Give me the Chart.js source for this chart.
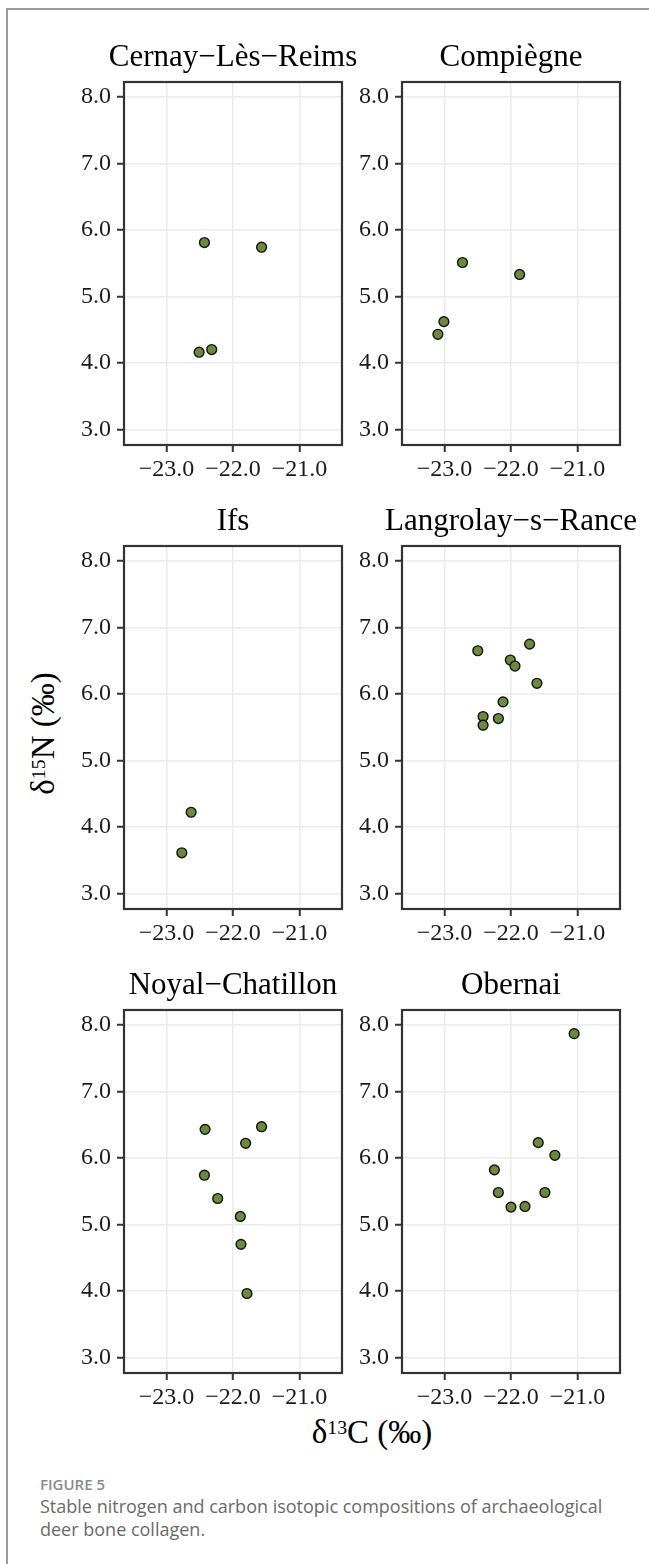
<!DOCTYPE html>
<html lang="en">
<head>
    <meta charset="UTF-8">
    <title>Figure 5 - deer bone collagen isotopes</title>
    <script src="https://cdn.jsdelivr.net/npm/chart.js"></script>
    <style>
        body { margin: 0; background: #fff; }
        #page { position: relative; width: 649px; height: 1564px; overflow: hidden; }
        #frame { position: absolute; left: 6px; top: 8px; width: 700px; height: 1600px;
                 border-left: 2px solid #9a9a9a; border-top: 2px solid #9a9a9a; }
        canvas { position: absolute; }
        .axt { position: absolute; font-family: 'Liberation Serif', serif; font-size: 33px;
               line-height: 1; color: #000; text-align: center; white-space: nowrap; }
        .axt sup { font-size: 0.6em; vertical-align: 9px; line-height: 1; }
        #ytitle { left: -107px; top: 717px; width: 300px; transform: rotate(-90deg); }
        #xtitle { left: 222px; top: 1416px; width: 300px; }
        #figno { position: absolute; left: 40px; top: 1477px; font-family: 'Open Sans', sans-serif;
                 font-size: 15px; line-height: 15px; font-weight: 600; color: #8a8a8a; }
        #caption { position: absolute; left: 40px; top: 1495px; width: 585px; font-family: 'Open Sans', sans-serif;
                   font-size: 18px; line-height: 23px; color: #6a6a6a; }
    </style>
</head>
<body>
<div id="page">
    <div id="frame"></div>
    <div class="axt" id="ytitle">δ<sup>15</sup>N (‰)</div>
    <div class="axt" id="xtitle">δ<sup>13</sup>C (‰)</div>
    <div id="figno">FIGURE 5</div>
    <div id="caption">Stable nitrogen and carbon isotopic compositions of archaeological deer bone collagen.</div>
</div>
<script>
    // sites (facet titles)
    const sites = ['Cernay−Lès−Reims', 'Compiègne', 'Ifs', 'Langrolay−s−Rance', 'Noyal−Chatillon', 'Obernai'];

    // d13C / d15N per site
    const cernayC = [-22.43, -21.57, -22.51, -22.32];
    const cernayN = [5.81, 5.74, 4.16, 4.20];

    const compiegneC = [-22.73, -21.87, -23.01, -23.10];
    const compiegneN = [5.51, 5.33, 4.62, 4.43];

    const ifsC = [-22.63, -22.77];
    const ifsN = [4.22, 3.61];

    const langrolayC = [-22.50, -21.72, -22.01, -21.94, -21.61, -22.12, -22.42, -22.42, -22.19];
    const langrolayN = [6.65, 6.75, 6.51, 6.42, 6.16, 5.88, 5.66, 5.53, 5.63];

    const noyalC = [-22.42, -21.57, -21.81, -22.43, -22.23, -21.89, -21.88, -21.79];
    const noyalN = [6.43, 6.47, 6.22, 5.74, 5.39, 5.12, 4.70, 3.96];

    const obernaiC = [-21.05, -21.59, -21.34, -22.25, -22.19, -21.49, -22.00, -21.79];
    const obernaiN = [7.87, 6.23, 6.04, 5.82, 5.48, 5.48, 5.26, 5.27];

    const xTicks = [-23, -22, -21];
    const yTicks = [3, 4, 5, 6, 7, 8];

    const xSeries = [cernayC, compiegneC, ifsC, langrolayC, noyalC, obernaiC];
    const ySeries = [cernayN, compiegneN, ifsN, langrolayN, noyalN, obernaiN];

    // panel layout (chart area position of each facet)
    const colLeft = [124, 402];
    const rowTop = [82, 546, 1010];
    const panelW = 218, yAxisW = 64, titleH = 72, xAxisH = 40;
    const canvasW = yAxisW + panelW + 40;
    const canvasH = 475;

    const serif = "'Liberation Serif', 'Times New Roman', serif";
    Chart.defaults.font.family = serif;

    const fmt = v => (v < 0 ? '\u2212' : '') + Math.abs(v).toFixed(1);

    // ggplot style panel border on all four sides
    const panelBorder = {
        id: 'panelBorder',
        afterDraw(chart) {
            const a = chart.chartArea, ctx = chart.ctx;
            ctx.save();
            ctx.strokeStyle = '#333';
            ctx.lineWidth = 2.2;
            ctx.strokeRect(a.left, a.top, a.right - a.left, a.bottom - a.top);
            ctx.restore();
        }
    };

    // strip title centred over the panel (built-in title centres over the whole canvas)
    const facetTitle = {
        id: 'facetTitle',
        afterDraw(chart, args, opts) {
            const a = chart.chartArea, ctx = chart.ctx;
            ctx.save();
            ctx.font = '31px ' + serif;
            ctx.fillStyle = '#000';
            ctx.textAlign = 'center';
            ctx.textBaseline = 'alphabetic';
            ctx.fillText(opts.text, (a.left + a.right) / 2, a.top - 16.5);
            ctx.restore();
        }
    };

    const page = document.getElementById('page');

    sites.forEach((site, i) => {
        const col = i % 2, row = Math.floor(i / 2);
        const cv = document.createElement('canvas');
        cv.width = canvasW;
        cv.height = canvasH;
        cv.style.left = (colLeft[col] - yAxisW) + 'px';
        cv.style.top = (rowTop[row] - titleH) + 'px';
        page.appendChild(cv);

        const pts = xSeries[i].map((x, j) => ({ x: x, y: ySeries[i][j] }));

        new Chart(cv.getContext('2d'), {
            type: 'scatter',
            data: {
                datasets: [{
                    data: pts,
                    backgroundColor: '#6a8c3a',
                    borderColor: '#111',
                    borderWidth: 1.4,
                    pointRadius: 4.9,
                    pointHoverRadius: 4.9
                }]
            },
            plugins: [panelBorder, facetTitle],
            options: {
                responsive: false,
                animation: false,
                layout: { padding: { left: 0, right: canvasW - yAxisW - panelW, top: titleH, bottom: 0 } },
                plugins: {
                    legend: { display: false },
                    tooltip: { enabled: false },
                    title: { display: false },
                    facetTitle: { text: site }
                },
                scales: {
                    x: {
                        type: 'linear',
                        min: -23.64,
                        max: -20.36,
                        afterBuildTicks: s => { s.ticks = xTicks.map(v => ({ value: v })); },
                        afterFit: s => { s.height = xAxisH; s.paddingLeft = 0; s.paddingRight = 0; },
                        ticks: { callback: fmt, color: '#1a1a1a', font: { family: serif, size: 24 }, padding: 3, maxRotation: 0, autoSkip: false },
                        grid: { color: '#ebebeb', lineWidth: 1.5, tickColor: '#333', tickWidth: 2, tickLength: 7 },
                        border: { display: false }
                    },
                    y: {
                        type: 'linear',
                        min: 2.764,
                        max: 8.226,
                        afterBuildTicks: s => { s.ticks = yTicks.map(v => ({ value: v })); },
                        afterFit: s => { s.width = yAxisW; s.paddingTop = 0; s.paddingBottom = 0; },
                        ticks: { callback: v => v.toFixed(1), color: '#1a1a1a', font: { family: serif, size: 24 }, padding: 6, autoSkip: false },
                        grid: { color: '#ebebeb', lineWidth: 1.5, tickColor: '#333', tickWidth: 2, tickLength: 7 },
                        border: { display: false }
                    }
                }
            }
        });
    });
</script>
</body>
</html>
